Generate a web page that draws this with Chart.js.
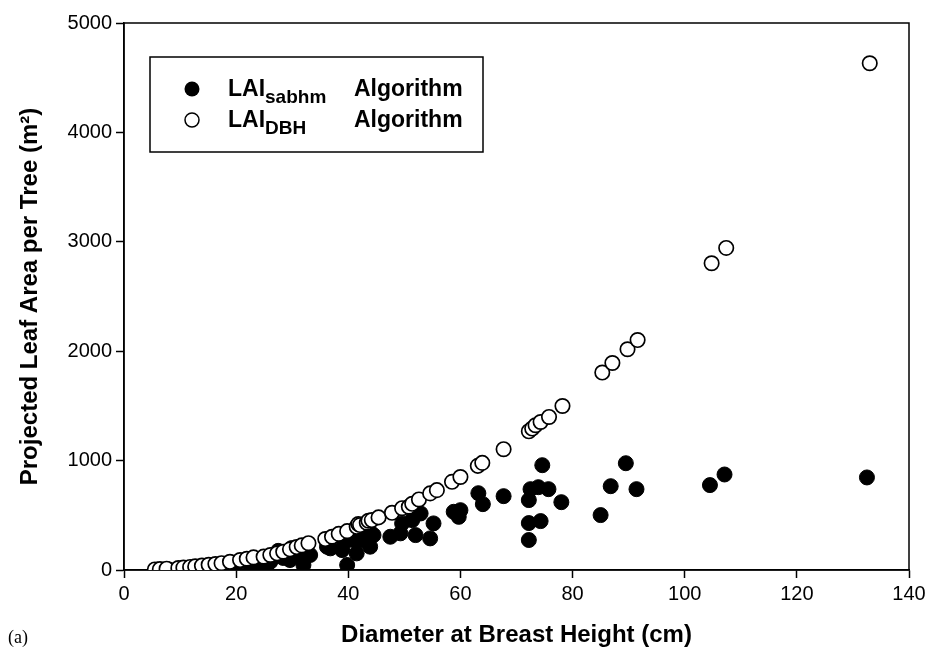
<!DOCTYPE html>
<html>
<head>
<meta charset="utf-8">
<script src="https://cdn.jsdelivr.net/npm/chart.js@4"></script>
<style>
  body { margin: 0; background: #fff; }
  #wrap { width: 932px; height: 655px; position: relative; }
</style>
</head>
<body>
<div id="wrap"><canvas id="myChart"></canvas></div>
<script>
// LAI_DBH algorithm (open circles)
var dbhX = [5.5, 6.4, 7.6, 9.7, 10.6, 11.8, 12.7, 13.9, 15.1, 16.3, 17.4, 18.9, 20.7, 21.9, 23.1, 24.9, 26.1, 27.3, 28.4, 29.6,
            30.8, 31.7, 32.9, 35.9, 37.1, 38.3, 39.8, 41.5, 41.8, 42.1, 43.3, 43.6, 44.2, 45.4, 47.8, 49.6, 50.8, 51.4, 52.6, 54.6,
            55.8, 58.5, 60.0, 63.1, 63.9, 67.7, 72.2, 72.8, 73.4, 74.3, 75.8, 78.2, 85.3, 87.1, 89.8, 91.6, 104.8, 107.4, 133.0];
var dbhY = [5, 8, 12, 18, 22, 28, 33, 40, 48, 55, 62, 75, 91, 103, 115, 122, 137, 152, 167, 189,
            210, 225, 245, 283, 304, 330, 355, 395, 420, 411, 432, 450, 456, 481, 523, 565, 578, 605, 645, 700,
            730, 806, 850, 952, 979, 1104, 1268, 1293, 1323, 1353, 1399, 1499, 1805, 1892, 2018, 2102, 2804, 2944, 4632];

// LAI_sabhm algorithm (filled circles)
var sabX = [6.0, 8.0, 10.0, 12.0, 14.0, 16.0, 18.0, 20.0, 22.5, 23.7, 24.3, 25.5, 26.1, 27.5, 28.4, 29.6, 29.9, 30.2, 32.0, 32.0,
            33.2, 36.2, 36.8, 38.9, 39.2, 39.8, 40.9, 41.5, 42.4, 42.7, 43.9, 44.0, 44.5, 47.5, 49.3, 49.6, 51.4, 52.0, 52.9, 54.6,
            55.2, 58.8, 59.7, 60.0, 63.2, 64.0, 67.7, 72.2, 72.5, 73.9, 74.6, 75.7, 78.0, 72.2, 74.3, 72.2, 85.0, 86.8, 89.5, 91.4,
            104.5, 107.1, 132.5];
var sabY = [3, 5, 8, 10, 12, 18, 5, 40, 46, 30, 61, 46, 76, 175, 110, 91, 200, 137, 91, 46,
            137, 213, 198, 182, 243, 46, 274, 152, 274, 365, 213, 340, 319, 304, 335, 426, 456, 319, 517, 289,
            426, 532, 486, 547, 702, 602, 675, 639, 739, 757, 958, 739, 620, 429, 447, 274, 502, 766, 976, 739,
            776, 873, 846];

var xTicks = [0, 20, 40, 60, 80, 100, 120, 140];
var yTicks = [0, 1000, 2000, 3000, 4000, 5000];

function pts(xs, ys) {
  return xs.map(function (x, i) { return { x: x, y: ys[i] }; });
}

var boxAndLegend = {
  id: "boxAndLegend",
  beforeDatasetsDraw: function (chart) {
    var a = chart.chartArea, ctx = chart.ctx;
    ctx.save();
    ctx.strokeStyle = "#000";
    ctx.lineWidth = 1.5;
    ctx.strokeRect(a.left, a.top, a.right - a.left, a.bottom - a.top);
    ctx.restore();
  },
  afterDraw: function (chart) {
    var ctx = chart.ctx;
    ctx.save();
    // legend box
    ctx.fillStyle = "#fff";
    ctx.fillRect(150, 57, 333, 95);
    ctx.strokeStyle = "#000";
    ctx.lineWidth = 1.5;
    ctx.strokeRect(150, 57, 333, 95);
    // markers
    ctx.beginPath();
    ctx.arc(192, 89, 7.5, 0, Math.PI * 2);
    ctx.fillStyle = "#000";
    ctx.fill();
    ctx.beginPath();
    ctx.arc(192, 120, 7, 0, Math.PI * 2);
    ctx.fillStyle = "#fff";
    ctx.fill();
    ctx.stroke();
    // texts
    ctx.fillStyle = "#000";
    ctx.textBaseline = "alphabetic";
    ctx.font = "bold 23px 'Liberation Sans', Arial, sans-serif";
    ctx.fillText("LAI", 228, 96);
    var w = ctx.measureText("LAI").width;
    ctx.fillText("Algorithm", 354, 96);
    ctx.fillText("LAI", 228, 127);
    ctx.fillText("Algorithm", 354, 127);
    ctx.font = "bold 19px 'Liberation Sans', Arial, sans-serif";
    ctx.fillText("sabhm", 228 + w, 103);
    ctx.fillText("DBH", 228 + w, 134);
    // panel label
    ctx.font = "18px 'Liberation Serif', 'Times New Roman', serif";
    ctx.fillText("(a)", 8, 643);
    ctx.restore();
  }
};

new Chart("myChart", {
  type: "scatter",
  data: {
    datasets: [{
      label: "LAIsabhm Algorithm",
      data: pts(sabX, sabY),
      backgroundColor: "#000",
      borderColor: "#000",
      borderWidth: 1,
      pointRadius: 7.5,
      order: 2
    }, {
      label: "LAIDBH Algorithm",
      data: pts(dbhX, dbhY),
      backgroundColor: "#fff",
      borderColor: "#000",
      borderWidth: 1.7,
      pointRadius: 7.2,
      order: 1
    }]
  },
  options: {
    responsive: true,
    maintainAspectRatio: false,
    animation: false,
    layout: { padding: { top: 23, right: 23, left: 0, bottom: 0 } },
    plugins: {
      legend: { display: false },
      tooltip: { enabled: false }
    },
    scales: {
      x: {
        type: "linear",
        min: 0,
        max: 140,
        afterFit: function (s) { s.height = 85; },
        afterBuildTicks: function (s) { s.ticks = xTicks.map(function (v) { return { value: v }; }); },
        grid: { drawOnChartArea: false, tickLength: 8, tickColor: "#000", tickWidth: 1.5 },
        border: { color: "#000", width: 1.5 },
        ticks: {
          color: "#000",
          padding: 4,
          maxRotation: 0,
          callback: function (v) { return String(v); },
          font: { family: "'Liberation Sans', Arial, sans-serif", size: 20 }
        },
        title: {
          display: true,
          text: "Diameter at Breast Height (cm)",
          color: "#000",
          padding: { top: 4, bottom: 5 },
          font: { family: "'Liberation Sans', Arial, sans-serif", size: 24, weight: "bold" }
        }
      },
      y: {
        min: 0,
        max: 5000,
        afterFit: function (s) { s.width = 124; },
        afterBuildTicks: function (s) { s.ticks = yTicks.map(function (v) { return { value: v }; }); },
        grid: { drawOnChartArea: false, tickLength: 8, tickColor: "#000", tickWidth: 1.5 },
        border: { color: "#000", width: 1.5 },
        ticks: {
          color: "#000",
          padding: 4,
          callback: function (v) { return String(v); },
          font: { family: "'Liberation Sans', Arial, sans-serif", size: 20 }
        },
        title: {
          display: true,
          text: "Projected Leaf Area per Tree (m²)",
          color: "#000",
          padding: { top: 16, bottom: 4 },
          font: { family: "'Liberation Sans', Arial, sans-serif", size: 24, weight: "bold" }
        }
      }
    }
  },
  plugins: [boxAndLegend]
});
</script>
</body>
</html>
